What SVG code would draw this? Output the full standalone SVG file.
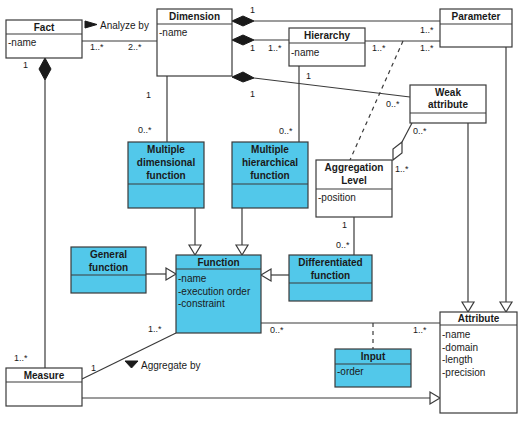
<svg xmlns="http://www.w3.org/2000/svg" width="519" height="422" viewBox="0 0 519 422">
<style>
.box{fill:#fff;stroke:#3a3a3a;stroke-width:1.2}
.cy{fill:#52C8EA;stroke:#3a3a3a;stroke-width:1.2}
.ln{fill:none;stroke:#3a3a3a;stroke-width:1.2}
.dash{fill:none;stroke:#3a3a3a;stroke-width:1.2;stroke-dasharray:4 4}
.hd{font-family:"Liberation Sans",Arial,sans-serif;font-size:10px;font-weight:bold;fill:#1a1a1a;text-anchor:middle}
.at{font-family:"Liberation Sans",Arial,sans-serif;font-size:10px;fill:#1a1a1a}
.m{font-family:"Liberation Sans",Arial,sans-serif;font-size:9px;fill:#1a1a1a}
.fd{fill:#1a1a1a;stroke:#1a1a1a;stroke-width:1}
.hol{fill:#fff;stroke:#3a3a3a;stroke-width:1.2}
</style>
<rect width="519" height="422" fill="#fff"/>

<g id="connectors">
  <line class="ln" x1="82" y1="41" x2="157" y2="41"/>
  <polygon class="fd" points="85,21 97,24.5 85,28"/>
  <text class="at" x="100" y="29" fill="#444">Analyze by</text>
  <text class="m" x="90" y="50">1..*</text>
  <text class="m" x="128" y="50">2..*</text>

  <line class="ln" x1="45" y1="80" x2="45" y2="368"/>
  <polygon class="fd" points="45,58 51,69 45,80 39,69"/>
  <text class="m" x="23" y="68">1</text>
  <text class="m" x="14" y="361">1..*</text>

  <line class="ln" x1="254" y1="21" x2="440" y2="21"/>
  <polygon class="fd" points="232,21 243,16 254,21 243,26"/>
  <line class="ln" x1="254" y1="40" x2="289" y2="40"/>
  <polygon class="fd" points="232,40 243,35 254,40 243,45"/>
  <line class="ln" x1="254" y1="78" x2="410" y2="97"/>
  <polygon class="fd" points="232,77 243,72 254,78 243,82"/>
  <text class="m" x="250" y="13">1</text>
  <text class="m" x="250" y="51">1</text>
  <text class="m" x="268" y="51">1..*</text>
  <text class="m" x="250" y="97">1</text>
  <text class="m" x="386" y="107">0..*</text>

  <line class="ln" x1="365" y1="41" x2="440" y2="41"/>
  <text class="m" x="372" y="51">1..*</text>
  <text class="m" x="420" y="33">1..*</text>
  <text class="m" x="420" y="51">1..*</text>
  <line class="dash" x1="403" y1="41" x2="350" y2="160"/>

  <line class="ln" x1="167" y1="76" x2="167" y2="142"/>
  <text class="m" x="146" y="98">1</text>
  <text class="m" x="138" y="133">0..*</text>

  <line class="ln" x1="299" y1="66" x2="299" y2="142"/>
  <text class="m" x="306" y="79">1</text>
  <text class="m" x="279" y="134">0..*</text>

  <line class="ln" x1="412" y1="123" x2="402" y2="142"/>
  <polygon class="hol" points="393,160 402,153 402,142 393,149"/>
  <text class="m" x="413" y="134">0..*</text>
  <text class="m" x="395" y="172">1..*</text>

  <line class="ln" x1="354" y1="217" x2="354" y2="255"/>
  <text class="m" x="342" y="228">1</text>
  <text class="m" x="336" y="248">0..*</text>

  <line class="ln" x1="195" y1="208" x2="195" y2="245"/>
  <polygon class="hol" points="195,255 189,245 201,245"/>
  <line class="ln" x1="242" y1="208" x2="242" y2="245"/>
  <polygon class="hol" points="242,255 236,245 248,245"/>

  <line class="ln" x1="146" y1="274" x2="166" y2="274"/>
  <polygon class="hol" points="176,274 166,268 166,280"/>
  <line class="ln" x1="289" y1="275" x2="271" y2="275"/>
  <polygon class="hol" points="261,275 271,269 271,281"/>

  <line class="ln" x1="261" y1="323" x2="440" y2="323"/>
  <line class="dash" x1="373" y1="323" x2="373" y2="349"/>
  <text class="m" x="270" y="333">0..*</text>
  <text class="m" x="413" y="333">1..*</text>

  <line class="ln" x1="82" y1="379" x2="176" y2="333"/>
  <text class="m" x="148" y="332">1..*</text>
  <text class="m" x="91" y="371">1</text>
  <polygon class="fd" points="125,361 138,361 131.5,368"/>
  <text class="at" x="141" y="369" fill="#444">Aggregate by</text>

  <line class="ln" x1="82" y1="398" x2="430" y2="398"/>
  <polygon class="hol" points="440,398 430,392 430,404"/>

  <line class="ln" x1="468" y1="123" x2="468" y2="302"/>
  <polygon class="hol" points="468,312 462,302 474,302"/>
  <line class="ln" x1="506" y1="47" x2="506" y2="302"/>
  <polygon class="hol" points="506,312 500,302 512,302"/>
</g>

<g id="fact">
  <rect class="box" x="6" y="20" width="76" height="38"/>
  <line class="ln" x1="6" y1="34" x2="82" y2="34"/>
  <text class="hd" x="44" y="31">Fact</text>
  <text class="at" x="8" y="46">-name</text>
</g>
<g id="dimension">
  <rect class="box" x="157" y="9" width="75" height="67"/>
  <line class="ln" x1="157" y1="24" x2="232" y2="24"/>
  <text class="hd" x="194.5" y="20">Dimension</text>
  <text class="at" x="159" y="36">-name</text>
</g>
<g id="hierarchy">
  <rect class="box" x="289" y="28" width="76" height="38"/>
  <line class="ln" x1="289" y1="43" x2="365" y2="43"/>
  <text class="hd" x="327" y="39">Hierarchy</text>
  <text class="at" x="291" y="56">-name</text>
</g>
<g id="parameter">
  <rect class="box" x="440" y="9" width="72" height="38"/>
  <line class="ln" x1="440" y1="24" x2="512" y2="24"/>
  <text class="hd" x="476" y="20">Parameter</text>
</g>
<g id="weak-attribute">
  <rect class="box" x="410" y="85" width="76" height="38"/>
  <line class="ln" x1="410" y1="113" x2="486" y2="113"/>
  <text class="hd" x="448" y="96">Weak</text>
  <text class="hd" x="448" y="108">attribute</text>
</g>
<g id="multiple-dimensional-function">
  <rect class="cy" x="128" y="142" width="76" height="66"/>
  <line class="ln" x1="128" y1="184" x2="204" y2="184"/>
  <text class="hd" x="166" y="153">Multiple</text>
  <text class="hd" x="166" y="166">dimensional</text>
  <text class="hd" x="166" y="179">function</text>
</g>
<g id="multiple-hierarchical-function">
  <rect class="cy" x="232" y="142" width="76" height="66"/>
  <line class="ln" x1="232" y1="184" x2="308" y2="184"/>
  <text class="hd" x="270" y="153">Multiple</text>
  <text class="hd" x="270" y="166">hierarchical</text>
  <text class="hd" x="270" y="179">function</text>
</g>
<g id="aggregation-level">
  <rect class="box" x="316" y="160" width="76" height="57"/>
  <line class="ln" x1="316" y1="189" x2="392" y2="189"/>
  <text class="hd" x="354" y="171">Aggregation</text>
  <text class="hd" x="354" y="184">Level</text>
  <text class="at" x="318" y="201">-position</text>
</g>
<g id="general-function">
  <rect class="cy" x="71" y="247" width="75" height="46"/>
  <line class="ln" x1="71" y1="275" x2="146" y2="275"/>
  <text class="hd" x="108.5" y="258">General</text>
  <text class="hd" x="108.5" y="271">function</text>
</g>
<g id="function">
  <rect class="cy" x="176" y="255" width="85" height="78"/>
  <line class="ln" x1="176" y1="269" x2="261" y2="269"/>
  <text class="hd" x="218.5" y="266">Function</text>
  <text class="at" x="178" y="282">-name</text>
  <text class="at" x="178" y="295">-execution order</text>
  <text class="at" x="178" y="307">-constraint</text>
</g>
<g id="differentiated-function">
  <rect class="cy" x="289" y="255" width="83" height="46"/>
  <line class="ln" x1="289" y1="283" x2="372" y2="283"/>
  <text class="hd" x="330.5" y="266">Differentiated</text>
  <text class="hd" x="330.5" y="279">function</text>
</g>
<g id="measure">
  <rect class="box" x="6" y="368" width="76" height="38"/>
  <line class="ln" x1="6" y1="382" x2="82" y2="382"/>
  <text class="hd" x="44" y="379">Measure</text>
</g>
<g id="attribute">
  <rect class="box" x="440" y="312" width="77" height="101"/>
  <line class="ln" x1="440" y1="325" x2="517" y2="325"/>
  <text class="hd" x="478.5" y="322">Attribute</text>
  <text class="at" x="442" y="338">-name</text>
  <text class="at" x="442" y="351">-domain</text>
  <text class="at" x="442" y="363">-length</text>
  <text class="at" x="442" y="376">-precision</text>
</g>
<g id="input">
  <rect class="cy" x="335" y="349" width="76" height="38"/>
  <line class="ln" x1="335" y1="364" x2="411" y2="364"/>
  <text class="hd" x="373" y="360">Input</text>
  <text class="at" x="337" y="375">-order</text>
</g>
</svg>
